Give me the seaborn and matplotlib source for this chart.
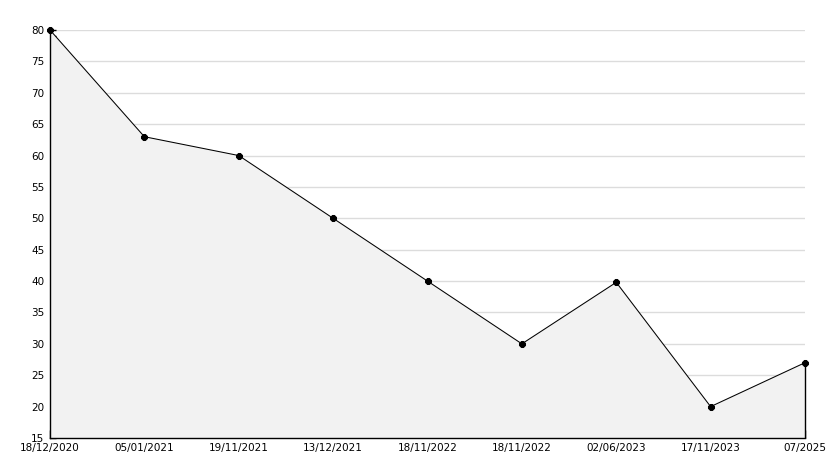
import matplotlib
matplotlib.use("Agg")
import matplotlib.pyplot as plt
import seaborn as sns
import pandas as pd
from matplotlib.ticker import MultipleLocator

dates = ["18/12/2020", "05/01/2021", "19/11/2021", "13/12/2021", "18/11/2022",
         "18/11/2022 ", "02/06/2023", "17/11/2023", "07/2025"]
values = [80, 63, 60, 50, 40, 30, 39.8, 20, 27]

df = pd.DataFrame({"idx": range(len(dates)), "value": values})

sns.set_style("white")
plt.rcParams["font.family"] = ["DejaVu Sans"]

fig = plt.figure(figsize=(8.34, 4.68), dpi=100)
ax = fig.add_axes([50/834, 1-438/468, (805-50)/834, (438-30)/468])

ax.fill_between(df["idx"], df["value"], 15, facecolor="#f2f2f2", edgecolor="none", zorder=1)
ax.vlines(df["idx"].iloc[-1], 15, df["value"].iloc[-1], color="black", linewidth=1,
          zorder=2, clip_on=False)
sns.lineplot(data=df, x="idx", y="value", ax=ax, color="black", linewidth=0.75,
             marker="8", markersize=5, markeredgecolor="black", zorder=3, clip_on=False)

ax.set_xlim(0, len(dates)-1)
ax.set_ylim(15, 80)
ax.yaxis.set_major_locator(MultipleLocator(5))
ax.yaxis.set_minor_locator(MultipleLocator(1))
ax.set_xticks(df["idx"])
ax.set_xticklabels([d.strip() for d in dates])
ax.grid(axis="y", which="major", color="#dcdcdc", linewidth=1, zorder=0)
ax.set_axisbelow(True)
for s in ["top", "right"]:
    ax.spines[s].set_visible(False)
for s in ["left", "bottom"]:
    ax.spines[s].set_color("black")
    ax.spines[s].set_linewidth(1)
ax.tick_params(axis="y", which="both", direction="in", length=4, width=1, labelsize=7.5,
               pad=4, left=True, color="black", labelcolor="black")
ax.tick_params(axis="x", which="major", direction="in", length=6, width=1, labelsize=7.5,
               pad=3.5, bottom=True, color="black", labelcolor="black")
ax.set_xlabel("")
ax.set_ylabel("")

fig.savefig("out.png", dpi=100)
